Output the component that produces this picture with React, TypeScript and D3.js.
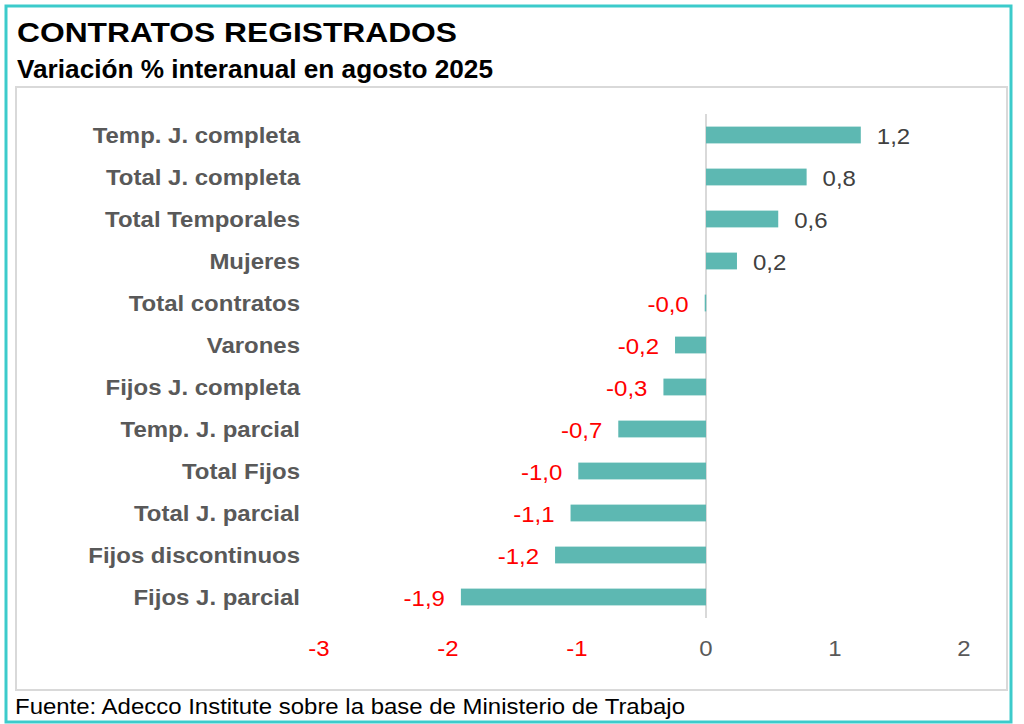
import React from "react";
import * as d3 from "d3";

const categories = [
  "Temp. J. completa",
  "Total J. completa",
  "Total Temporales",
  "Mujeres",
  "Total contratos",
  "Varones",
  "Fijos J. completa",
  "Temp. J. parcial",
  "Total Fijos",
  "Total J. parcial",
  "Fijos discontinuos",
  "Fijos J. parcial",
];
const values = [1.2, 0.78, 0.56, 0.24, -0.01, -0.24, -0.33, -0.68, -0.99, -1.05, -1.17, -1.9];
const labels = ["1,2", "0,8", "0,6", "0,2", "-0,0", "-0,2", "-0,3", "-0,7", "-1,0", "-1,1", "-1,2", "-1,9"];
const ticks = [-3, -2, -1, 0, 1, 2];

const W = 1024;
const H = 724;
const FONT = "'Liberation Sans', Arial, sans-serif";
const BAR = "#5db8b2";
const TEAL = "#3ccbcb";
const GRAY = "#595959";
const RED = "#ff0000";
const SX = 1.09;

export default function App() {
  const x = d3.scaleLinear().domain([-3, 2]).range([319, 964]);
  const y = d3.scaleBand<string>().domain(categories).range([114, 618]).paddingInner(0.6).paddingOuter(0.3);
  return (
    <svg
      width={W}
      height={H}
      style={{ position: "absolute", left: 0, top: 0, display: "block", background: "#fff" }}
      fontFamily={FONT}
    >
      <rect x={0} y={0} width={W} height={H} fill="#fff" />
      <rect x={6} y={6} width={1005} height={716} fill="none" stroke={TEAL} strokeWidth={3} />
      <text x={17} y={42} fontSize={28} fontWeight="bold" fill="#000" textLength={440} lengthAdjust="spacingAndGlyphs">
        CONTRATOS REGISTRADOS
      </text>
      <text x={17} y={78} fontSize={25} fontWeight="bold" fill="#000" textLength={476} lengthAdjust="spacingAndGlyphs">
        Variación % interanual en agosto 2025
      </text>
      <rect x={16} y={87} width={991} height={603} fill="none" stroke="#d9d9d9" strokeWidth={2} />
      <line x1={x(0)} x2={x(0)} y1={114} y2={618} stroke="#d9d9d9" strokeWidth={2} />
      {categories.map((c, i) => {
        const v = values[i];
        const y0 = y(c)!;
        const bw = y.bandwidth();
        const xs = Math.min(x(0), x(v));
        const w = Math.abs(x(v) - x(0));
        const cy = y0 + bw / 2;
        const lx = v >= 0 ? x(v) + 16 : x(v) - 16;
        return (
          <g key={c}>
            <rect x={xs} y={y0} width={Math.max(w, 1.5)} height={bw} fill={BAR} />
            <text
              transform={`translate(300,${cy + 7.5}) scale(${SX},1)`}
              textAnchor="end"
              fontSize={22}
              fontWeight="bold"
              fill={GRAY}
            >
              {c}
            </text>
            <text
              transform={`translate(${lx},${cy + 9}) scale(${SX},1)`}
              textAnchor={v >= 0 ? "start" : "end"}
              fontSize={22}
              fill={v >= 0 ? "#404040" : RED}
            >
              {labels[i]}
            </text>
          </g>
        );
      })}
      {ticks.map((t) => (
        <text
          key={t}
          transform={`translate(${x(t)},656) scale(${SX},1)`}
          textAnchor="middle"
          fontSize={22}
          fill={t < 0 ? RED : GRAY}
        >
          {t < 0 ? `-${Math.abs(t)}` : String(t)}
        </text>
      ))}
      <text x={15} y={714} fontSize={22} fill="#000" textLength={670} lengthAdjust="spacingAndGlyphs">
        Fuente: Adecco Institute sobre la base de Ministerio de Trabajo
      </text>
    </svg>
  );
}
